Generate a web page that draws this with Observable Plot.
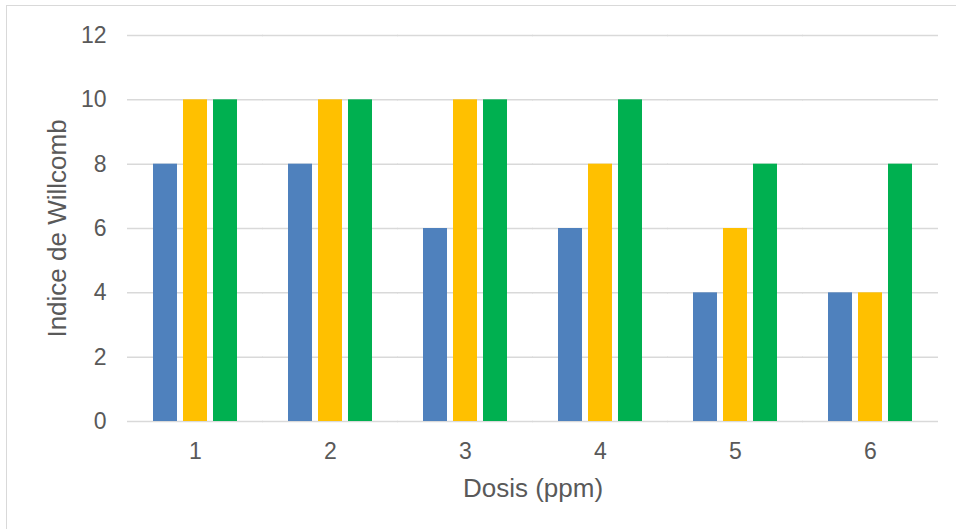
<!DOCTYPE html>
<html>
<head>
<meta charset="utf-8">
<script src="https://cdn.jsdelivr.net/npm/d3@7"></script>
<script src="https://cdn.jsdelivr.net/npm/@observablehq/plot@0.6"></script>
<style>
  html, body { margin: 0; padding: 0; background: #fff; }
  #wrap { position: relative; width: 956px; height: 529px; overflow: hidden; }
  #frame { position: absolute; left: 6px; top: 5px; width: 980px; height: 560px;
           border: 1.5px solid #d9d9d9; box-sizing: border-box; }
  #chart { position: absolute; left: 0; top: 0; }
</style>
</head>
<body>
<div id="wrap"><div id="frame"></div><div id="chart"></div></div>
<script>
// Doses (x categories) and the Willcomb index of each series
const doses = [1, 2, 3, 4, 5, 6];
const series = ["Serie1", "Serie2", "Serie3"];
const serie1 = [8, 8, 6, 6, 4, 4];
const serie2 = [10, 10, 10, 8, 6, 4];
const serie3 = [10, 10, 10, 10, 8, 8];
const yTicks = [0, 2, 4, 6, 8, 10, 12];
const colors = ["#4F81BD", "#FFC000", "#00B050"];
const xTitle = "Dosis (ppm)";
const yTitle = "Indice de Willcomb";

const values = [serie1, serie2, serie3];
const data = doses.flatMap((d, i) =>
  series.map((s, j) => ({dose: d, serie: s, value: values[j][i]}))
);

// half of the gap between dose groups, so grid lines run continuously
const gridOverhang = -23;
const textColor = "#595959";

const chart = Plot.plot({
  width: 956,
  height: 529,
  marginLeft: 127,
  marginRight: 18,
  marginTop: 35,
  marginBottom: 108,
  style: {fontFamily: "'Liberation Sans', Arial, sans-serif", color: textColor, background: "transparent"},
  fx: {domain: doses, paddingInner: 1 / 3, paddingOuter: 1 / 6},
  x: {domain: series, paddingInner: 0.2, paddingOuter: 0.1, axis: null},
  y: {domain: [0, 12]},
  color: {domain: series, range: colors},
  marks: [
    Plot.ruleY(yTicks, {stroke: "#d9d9d9", strokeWidth: 1.5, insetLeft: gridOverhang, insetRight: gridOverhang}),
    Plot.barY(data, {fx: "dose", x: "serie", y: "value", fill: "serie"}),
    Plot.axisY(yTicks, {
      tickSize: 0, tickPadding: 44, fontSize: 23, fill: textColor, label: null
    }),
    Plot.axisFx({
      anchor: "bottom", tickSize: 0, tickPadding: 21, fontSize: 23, fill: textColor, label: null
    }),
    // axis titles, placed once over the whole frame
    Plot.text([xTitle], {
      facet: "super", frameAnchor: "bottom", lineAnchor: "middle",
      dy: 67, fontSize: 26, fill: textColor
    }),
    Plot.text([yTitle], {
      facet: "super", frameAnchor: "left", textAnchor: "middle", lineAnchor: "middle", rotate: -90,
      dx: -93, fontSize: 26, fill: textColor
    })
  ]
});
document.getElementById("chart").appendChild(chart);
</script>
</body>
</html>
